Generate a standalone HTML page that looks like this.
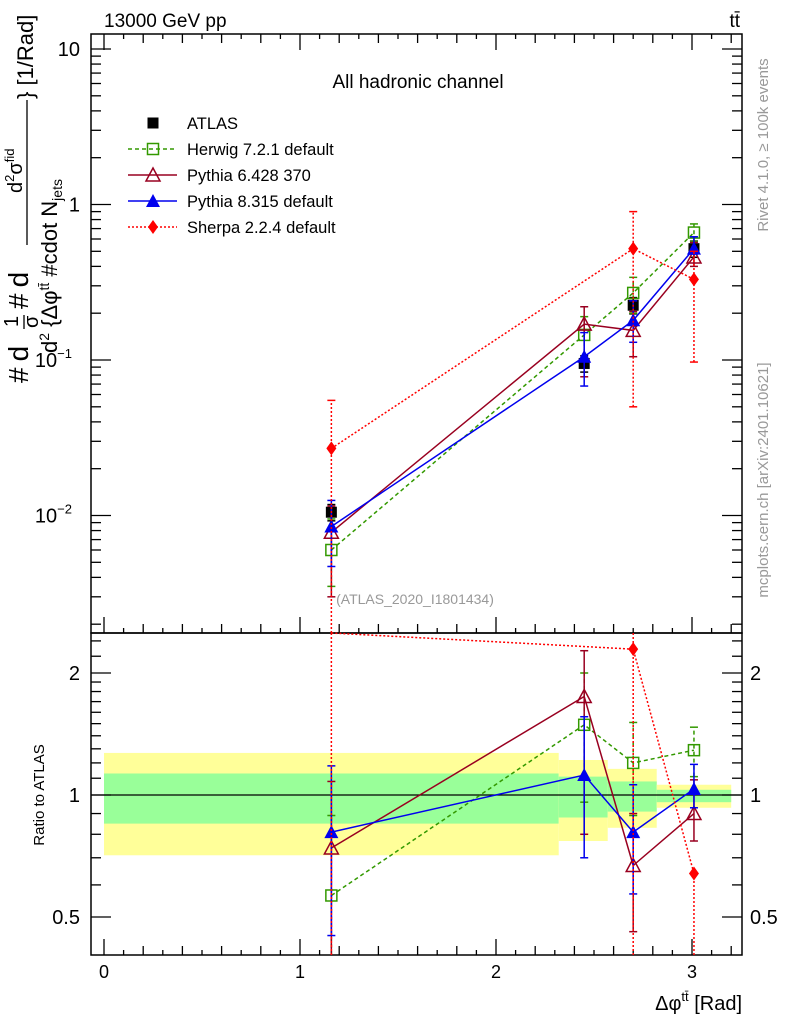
<!DOCTYPE html>
<html><head><meta charset="utf-8"><style>
body{margin:0;background:#fff}
svg{display:block;font-family:"Liberation Sans",sans-serif}
</style></head><body>
<svg id="c" width="786" height="1024" xmlns="http://www.w3.org/2000/svg">
<g id="bands"></g>
<g id="axes"></g>
<g id="series"></g>
<text x="104" y="27" font-size="19">13000 GeV pp</text>
<text x="740" y="27" font-size="19" text-anchor="end">tt̄</text>
<text x="418" y="88" font-size="19" text-anchor="middle">All hadronic channel</text>
<text x="415" y="604" font-size="14" fill="#999" text-anchor="middle">(ATLAS_2020_I1801434)</text>
<text transform="translate(768,145) rotate(-90)" font-size="15" fill="#999" text-anchor="middle">Rivet 4.1.0, ≥ 100k events</text>
<text transform="translate(768,480) rotate(-90)" font-size="15" fill="#999" text-anchor="middle">mcplots.cern.ch [arXiv:2401.10621]</text>
<text transform="translate(44,795) rotate(-90)" font-size="15" text-anchor="middle">Ratio to ATLAS</text>
<text x="742" y="1010" font-size="20" text-anchor="end">Δφ<tspan font-size="13" dy="-9">tt̄</tspan><tspan dy="9"> [Rad]</tspan></text>
<g transform="translate(30,375) rotate(-90)">
<text x="-8" y="-2" font-size="28" letter-spacing="6">#d</text>
<text x="48" y="-12" font-size="20">1</text>
<text x="47" y="8" font-size="20">σ</text>
<line x1="46" y1="-6" x2="60" y2="-6" stroke="#000" stroke-width="1.3"/>
<text x="66" y="-2" font-size="28" letter-spacing="6">#d</text>
<line x1="130" y1="-3" x2="275" y2="-3" stroke="#000" stroke-width="1.3"/>
<text x="182" y="-8" font-size="20">d<tspan font-size="13" dy="-8">2</tspan><tspan dy="8">σ</tspan><tspan font-size="13" dy="-8">fid</tspan></text>
<text x="22" y="27" font-size="22">d<tspan font-size="14" dy="-8">2</tspan><tspan dy="8"> {Δφ</tspan><tspan font-size="14" dy="-8">tt̄</tspan><tspan dy="8"> #cdot N</tspan><tspan font-size="14" dy="5">jets</tspan></text>
<text x="276" y="3" font-size="22">} [1/Rad]</text>
</g>
<g id="legend"></g>
</svg>
<script>
const xs=[1.16,2.45,2.70,3.01];
const atlas=[0.0105,0.095,0.225,0.52];
const herwig=[0.006,0.145,0.27,0.66];
const py6=[0.0078,0.17,0.155,0.46];
const py8=[0.0085,0.105,0.18,0.52];
const sherpaX=[1.16,2.70,3.01];
const sherpa=[0.027,0.52,0.33];
const sherpaLo=[0.001,0.05,0.097];
const sherpaHi=[0.055,0.9,0.5];
const rHerwig=[0.565,1.49,1.20,1.29];
const rHerwigLo=[0.3,0.96,0.89,1.11];
const rHerwigHi=[0.89,2.0,1.51,1.47];
const rPy6=[0.74,1.75,0.67,0.90];
const rPy6Lo=[0.3,0.80,0.46,0.77];
const rPy6Hi=[1.08,2.27,0.90,1.09];
const rPy8=[0.81,1.12,0.81,1.035];
const rPy8Lo=[0.45,0.70,0.57,0.93];
const rPy8Hi=[1.18,1.56,1.06,1.19];
const rSherpaX=[1.16,2.70,3.01];
const rSherpa=[2.57,2.29,0.64];
const rSherpaLo=[0.3,0.3,0.3];
const rSherpaHi=[2.6,2.6,0.64];
const binEdges=[0,2.32,2.57,2.82,3.2];
const yellowLo=[0.71,0.77,0.83,0.93];
const yellowHi=[1.27,1.22,1.16,1.06];
const greenLo=[0.85,0.88,0.91,0.96];
const greenHi=[1.13,1.11,1.08,1.03];
const xTicks=[0,1,2,3];
const ratioLabels=[0.5,1,2];

const NS="http://www.w3.org/2000/svg";
const L=91,R=742,T=34,M=633,B=955;
const X=v=>104+v*196;
const Y=v=>{let y=49-(Math.log10(v)-1)*155.5;return Math.max(T,Math.min(M,y));};
const RY=v=>{let y=795-Math.log2(v)*122;return Math.max(M,Math.min(B,y));};
function mk(p,tag,at){const e=document.createElementNS(NS,tag);for(const k in at)e.setAttribute(k,at[k]);p.appendChild(e);return e;}
const bandsG=document.getElementById('bands'),axesG=document.getElementById('axes'),serG=document.getElementById('series'),legG=document.getElementById('legend');
for(let i=0;i<4;i++){
 let r=mk(bandsG,'rect',{x:X(binEdges[i]),width:X(binEdges[i+1])-X(binEdges[i]),y:RY(yellowHi[i]),height:RY(yellowLo[i])-RY(yellowHi[i]),fill:'#ffff99'});
 
 
 let g=mk(bandsG,'rect',{x:X(binEdges[i]),width:X(binEdges[i+1])-X(binEdges[i]),y:RY(greenHi[i]),height:RY(greenLo[i])-RY(greenHi[i]),fill:'#99ff99'});
 
 
}
mk(bandsG,'line',{x1:L,x2:R,y1:RY(1),y2:RY(1),stroke:'#000','stroke-width':1.3});
mk(axesG,'rect',{x:L,y:T,width:R-L,height:M-T,fill:'none',stroke:'#000','stroke-width':1.5});
mk(axesG,'rect',{x:L,y:M,width:R-L,height:B-M,fill:'none',stroke:'#000','stroke-width':1.5});
for(let k=0;k<=32;k++){const vv=k/10;const maj=k%10==0;const med=k%2==0;const len=maj?16:med?9:5;
 for(const [y0,d] of [[M,-1],[T,1],[B,-1]]){mk(axesG,'line',{x1:X(vv),x2:X(vv),y1:y0,y2:y0+d*len,stroke:'#000','stroke-width':1.3});}}
xTicks.forEach(v=>{const t=mk(axesG,'text',{x:X(v),y:978,'font-size':18,'text-anchor':'middle'});t.textContent=v;});
for(let e=-3;e<=1;e++)for(let m=1;m<=9;m++){const v=m*Math.pow(10,e);const ly=49-(Math.log10(v)-1)*155.5;if(ly<T||ly>M)continue;const len=m==1?20:10;
 mk(axesG,'line',{x1:L,x2:L+len,y1:ly,y2:ly,stroke:'#000','stroke-width':1.3});mk(axesG,'line',{x1:R,x2:R-len,y1:ly,y2:ly,stroke:'#000','stroke-width':1.3});}
[[10,'10',''],[1,'1',''],[0.1,'10','−1'],[0.01,'10','−2']].forEach(([v,b,s])=>{const t=mk(axesG,'text',{x:s?72:80,y:Y(v)+7,'font-size':20,'text-anchor':'end'});t.textContent=b;if(s){const ts=mk(t,'tspan',{'font-size':13,dy:-9});ts.textContent=s;}});
[0.4,0.5,0.6,0.7,0.8,0.9,1,1.1,1.2,1.3,1.4,1.5,1.6,1.7,1.8,1.9,2,2.2,2.4].forEach(v=>{const y=795-Math.log2(v)*122;if(y<M||y>B)return;const len=[0.5,1,2].includes(v)?20:10;
 mk(axesG,'line',{x1:L,x2:L+len,y1:y,y2:y,stroke:'#000','stroke-width':1.3});mk(axesG,'line',{x1:R,x2:R-len,y1:y,y2:y,stroke:'#000','stroke-width':1.3});});
ratioLabels.forEach(v=>{const t=mk(axesG,'text',{x:80,y:RY(v)+7,'font-size':20,'text-anchor':'end'});t.textContent=v;
 const t2=mk(axesG,'text',{x:750,y:RY(v)+7,'font-size':20});t2.textContent=v;});
function marker(p,type,x,y,c){
 if(type=='sq')return mk(p,'rect',{x:x-5.5,y:y-5.5,width:11,height:11,fill:'#000'});
 if(type=='osq')return mk(p,'rect',{x:x-5.5,y:y-5.5,width:11,height:11,fill:'none',stroke:c,'stroke-width':1.5});
 if(type=='otri')return mk(p,'polygon',{points:`${x},${y-7} ${x-7},${y+6} ${x+7},${y+6}`,fill:'none',stroke:c,'stroke-width':1.5});
 if(type=='tri')return mk(p,'polygon',{points:`${x},${y-7} ${x-7},${y+6} ${x+7},${y+6}`,fill:c});
 if(type=='dia')return mk(p,'polygon',{points:`${x},${y-7} ${x+5},${y} ${x},${y+7} ${x-5},${y}`,fill:c});
}
function series(name,xv,yv,lo,hi,yf,c,dash,type){
 const g=mk(serG,'g',{});
 
 
 const pl={points:xv.map((x,i)=>X(x)+','+yf(yv[i])).join(' '),fill:'none',stroke:c,'stroke-width':1.5};
 if(dash)pl['stroke-dasharray']=dash;
 if(type!='sq')mk(g,'polyline',pl);
 xv.forEach((x,i)=>{const la={x1:X(x),x2:X(x),y1:yf(lo[i]),y2:yf(hi[i]),stroke:c,'stroke-width':1.5};if(dash)la['stroke-dasharray']=dash;mk(g,'line',la);
  [lo[i],hi[i]].forEach(v=>{const yy=yf(v);if(yy>T+1&&yy<B-1&&Math.abs(yy-M)>1)mk(g,'line',{x1:X(x)-4,x2:X(x)+4,y1:yy,y2:yy,stroke:c,'stroke-width':1.5});});
  const yy=yf(yv[i]);if(yy>T+1&&yy<B-1&&Math.abs(yy-M)>1)marker(g,type,X(x),yy,c);});
}
const scaleArr=(a,f)=>a.map(v=>v*f);
series('atlas-data',xs,atlas,scaleArr(atlas,0.88),scaleArr(atlas,1.12),Y,'#000','','sq');
series('herwig-series',xs,herwig,[0.0035,0.1,0.2,0.58],[0.0095,0.19,0.34,0.75],Y,'#339900','4,3','osq');
series('pythia6-series',xs,py6,[0.003,0.078,0.105,0.4],[0.0115,0.22,0.205,0.57],Y,'#990020','','otri');
series('pythia8-series',xs,py8,[0.0047,0.068,0.13,0.48],[0.0125,0.15,0.24,0.62],Y,'#0000ee','','tri');
series('sherpa-series',sherpaX,sherpa,sherpaLo,sherpaHi,Y,'#ff0000','2,2','dia');
series('herwig-ratio',xs,rHerwig,rHerwigLo,rHerwigHi,RY,'#339900','4,3','osq');
series('pythia6-ratio',xs,rPy6,rPy6Lo,rPy6Hi,RY,'#990020','','otri');
series('pythia8-ratio',xs,rPy8,rPy8Lo,rPy8Hi,RY,'#0000ee','','tri');
series('sherpa-ratio',rSherpaX,rSherpa,rSherpaLo,rSherpaHi,RY,'#ff0000','2,2','dia');
const legItems=[['ATLAS','#000','','sq',false],['Herwig 7.2.1 default','#339900','4,3','osq',true],['Pythia 6.428 370','#990020','','otri',true],['Pythia 8.315 default','#0000ee','','tri',true],['Sherpa 2.2.4 default','#ff0000','2,2','dia',true]];
legItems.forEach((it,i)=>{const y=123+i*26;const g=mk(legG,'g',{});
 
 
 if(it[4]){const la={x1:128,x2:177,y1:y,y2:y,stroke:it[1],'stroke-width':1.5};if(it[2])la['stroke-dasharray']=it[2];mk(g,'line',la);}
 marker(g,it[3],153,y,it[1]);const t=mk(g,'text',{x:187,y:y+6,'font-size':16.5});t.textContent=it[0];});
</script>
</body></html>
